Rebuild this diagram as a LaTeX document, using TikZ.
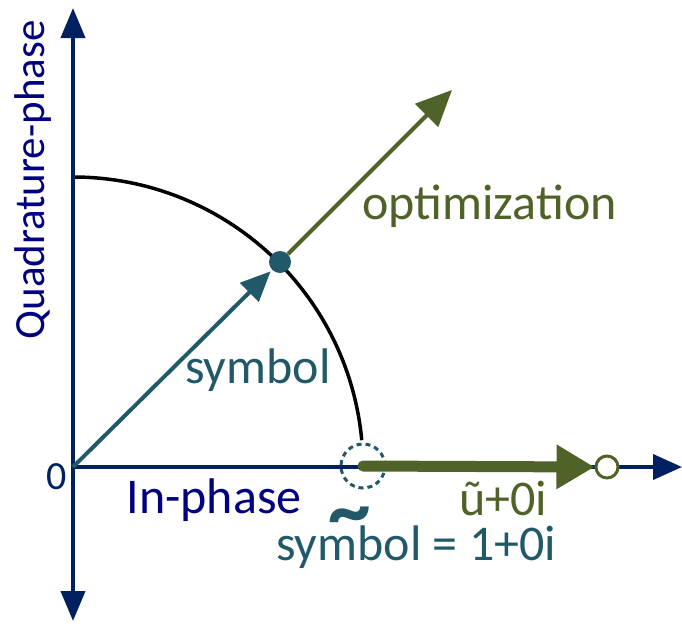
\documentclass[tikz,border=0pt]{standalone}
\usepackage{fontspec}
\setmainfont{Carlito}
\usetikzlibrary{arrows.meta}
\definecolor{axisblue}{HTML}{002060}
\definecolor{labelblue}{HTML}{000080}
\definecolor{tealc}{HTML}{215968}
\definecolor{olivec}{HTML}{4F6228}
\tikzset{
  axisline/.style={draw=axisblue, line width=4pt},
  txt/.style={inner sep=0pt, font=\fontsize{50}{60}\selectfont},
}
\begin{document}
\begin{tikzpicture}[x=1pt,y=-1pt]
\useasboundingbox (0,0) rectangle (682,625);
% key points
\coordinate (O) at (73,467);
\coordinate (Qtop) at (73,8);
\coordinate (Qbot) at (73,621);
\coordinate (Iend) at (682,467);
% arc
\draw[black, line width=3.5pt] (73,177) arc[start angle=-90, end angle=-5.3, radius=290];
% axes
\draw[axisline, {Triangle[length=30pt,width=24pt]}-{Triangle[length=30pt,width=24pt]}] (Qbot) -- (Qtop);
\draw[axisline, -{Triangle[length=29pt,width=25pt]}] (O) -- (Iend);
% dot
\node[circle, fill=tealc, minimum size=22pt, inner sep=0pt] (D) at (280,262) {};
% symbol arrow
\draw[tealc, line width=4pt, -{Triangle[length=30pt,width=26pt]}, shorten >=2pt] (O) -- (D);
% optimization arrow
\coordinate (Opt) at (452,90);
\draw[olivec, line width=4pt, -{Triangle[length=36pt,width=32pt]}] (D) -- (Opt);
% dashed circle
\node[circle, draw=tealc, line width=3pt, dash pattern=on 5pt off 4pt, minimum size=44pt, inner sep=0pt] (C) at (363,466) {};
% open circle
\node[circle, draw=olivec, fill=white, line width=3pt, minimum size=22pt, inner sep=0pt] (E) at (607,467) {};
% thick arrow
\draw[olivec, line width=11pt, line cap=round, -{Triangle[length=38pt,width=42pt]}] (C.center) -- (E.west);
% labels
\node[txt, text=labelblue, rotate=90, font=\fontsize{43}{50}\selectfont] (QL) at (33,180) {Quadrature-phase};
\node[txt, text=labelblue] (IL) at (214,500) {In-phase};
\node[txt, text=axisblue, font=\fontsize{40}{46}\selectfont] (zero) at (57,477) {0};
\node[txt, text=tealc, anchor=base west] (SL) at (185,383) {symbol};
\node[txt, text=olivec, anchor=base west] (OL) at (362,219) {optimization};
\node[txt, text=olivec] (UL) at (503,498) {ũ+0i};
\node[txt, text=tealc, anchor=base west] (SE) at (276,560) {symbol = 1+0i};
\node[txt, text=tealc, font=\bfseries\fontsize{85}{85}\selectfont] (TL) at (350,523) {\textasciitilde};
\end{tikzpicture}
\end{document}
